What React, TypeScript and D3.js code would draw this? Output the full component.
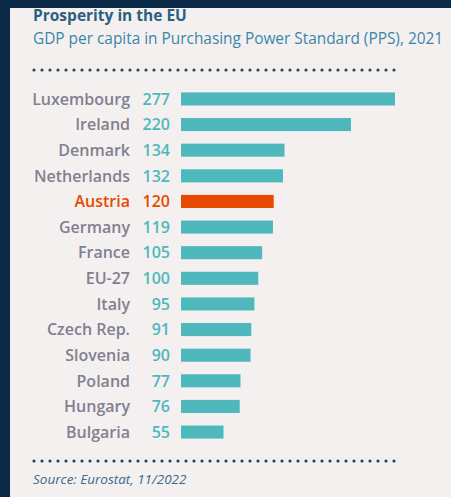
import React from 'react';
import * as d3 from 'd3';

const countries = ['Luxembourg', 'Ireland', 'Denmark', 'Netherlands', 'Austria', 'Germany', 'France', 'EU-27', 'Italy', 'Czech Rep.', 'Slovenia', 'Poland', 'Hungary', 'Bulgaria'];
const gdpPps = [277, 220, 134, 132, 120, 119, 105, 100, 95, 91, 90, 77, 76, 55];
const highlight = 'Austria';

const W = 451;
const H = 497;
const FONT = "'Open Sans', 'Noto Sans', sans-serif";

export default function App() {
  const x = d3.scaleLinear().domain([0, 277]).range([181, 395]);
  const y = d3.scaleBand<string>().domain(countries).range([86, 445]).paddingInner(0.49).paddingOuter(0.25);

  const teal = '#4fb8bc';
  const orange = '#e64a00';

  return (
    <svg width={W} height={H} style={{ position: 'absolute', left: 0, top: 0 }} fontFamily={FONT}>
      <rect x={0} y={0} width={W} height={H} fill="#0b2a47" />
      <rect x={10} y={8} width={W - 10} height={H - 8} fill="#f4f0f0" />
      <text x={33} y={21} fontSize={15.5} fontWeight={700} fill="#2c5f80">Prosperity in the EU</text>
      <text x={33} y={44} fontSize={15.4} fill="#3b86a8">GDP per capita in Purchasing Power Standard (PPS), 2021</text>
      <line x1={34} x2={395} y1={70} y2={70} stroke="#1f4563" strokeWidth={3.2} strokeLinecap="round" strokeDasharray="0 8" />
      {countries.map((c, i) => {
        const yc = (y(c) ?? 0) + y.bandwidth() / 2;
        const hi = c === highlight;
        return (
          <g key={c}>
            <text x={130} y={yc} dy="0.36em" textAnchor="end" fontSize={16} fontWeight={600} fill={hi ? orange : '#80808f'}>{c}</text>
            <text x={170} y={yc} dy="0.36em" textAnchor="end" fontSize={16} fontWeight={600} fill={hi ? orange : teal}>{gdpPps[i]}</text>
            <rect x={x(0)} y={y(c)} width={x(gdpPps[i]) - x(0)} height={y.bandwidth()} fill={hi ? orange : teal} />
          </g>
        );
      })}
      <line x1={34} x2={395} y1={461} y2={461} stroke="#1f4563" strokeWidth={3.2} strokeLinecap="round" strokeDasharray="0 8" />
      <text x={33} y={484} fontSize={13.5} fontStyle="italic" fill="#3a6a8e">Source: Eurostat, 11/2022</text>
    </svg>
  );
}
